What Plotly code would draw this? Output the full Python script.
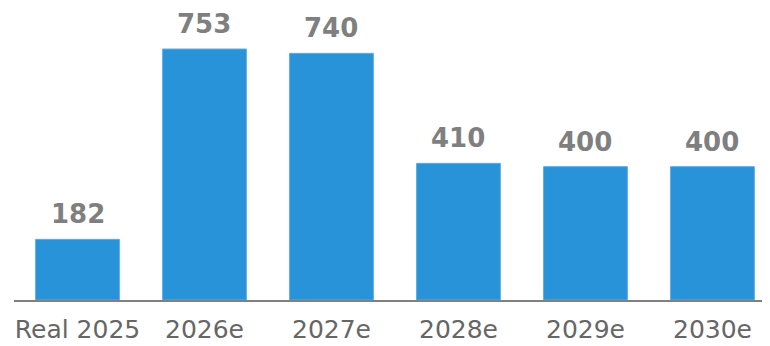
import plotly.graph_objects as go

categories = ["Real 2025", "2026e", "2027e", "2028e", "2029e", "2030e"]
values = [182, 753, 740, 410, 400, 400]

fig = go.Figure()

fig.add_trace(
    go.Bar(
        x=categories,
        y=values,
        marker=dict(color="#2893D8", line=dict(color="#5AAEE6", width=1)),
        hoverinfo="skip",
    )
)

# page body has an 8px margin, so the plot area is pulled up/left to compensate
fig.update_layout(
    annotations=[
        dict(x=c, y=v, text=str(v), showarrow=False, yanchor="bottom", yshift=8,
             font=dict(family="DejaVu Sans", size=26, color="#7F7F7F", weight="bold"))
        for c, v in zip(categories, values)
    ],
    bargap=0.34,
    showlegend=False,
    width=770,
    height=346,
    paper_bgcolor="white",
    plot_bgcolor="white",
    margin=dict(l=6, r=0, t=0, b=54, pad=0),
    font=dict(family="DejaVu Sans", size=25, color="#666666"),
    xaxis=dict(
        range=[-0.5, 5.516],
        showline=True,
        linecolor="#808080",
        linewidth=2,
        ticks="",
        ticklabelstandoff=6,
        showgrid=False,
        tickfont=dict(size=25, color="#666666"),
    ),
    yaxis=dict(
        range=[0, 876],
        visible=False,
        showgrid=False,
        zeroline=False,
    ),
)

fig.write_html("out.html")
